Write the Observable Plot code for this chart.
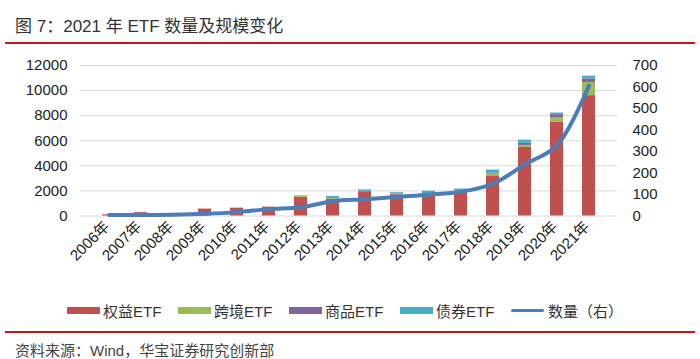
<!DOCTYPE html>
<html>
<head>
<meta charset="utf-8">
<script src="https://cdn.jsdelivr.net/npm/d3@7"></script>
<script src="https://cdn.jsdelivr.net/npm/@observablehq/plot@0.6"></script>
<style>
  html, body { margin: 0; padding: 0; background: #fff; }
  body { font-family: "Liberation Sans", Arial, "Noto Sans CJK SC", sans-serif; }
  #wrap { position: relative; width: 700px; height: 359px; overflow: hidden; background: #fff; }
  #title { position: absolute; left: 15px; top: 12px; font-size: 17px; color: #333; white-space: nowrap; }
  .redline { position: absolute; left: 5px; width: 690px; height: 2px; background: #c8161d; }
  #chart { position: absolute; left: 0; top: 45px; }
  #legend { position: absolute; left: 67px; top: 300px; display: flex; align-items: center; font-size: 15px; color: #333; white-space: nowrap; }
  .item { display: flex; align-items: center; width: 111px; flex: none; }
  .sw { width: 33px; height: 7px; margin-right: 3px; flex: none; }
  .swl { width: 33px; height: 3px; margin-right: 4px; flex: none; border-radius: 2px; }
  #caption { position: absolute; left: 15px; top: 339px; font-size: 15px; color: #444; white-space: nowrap; }
</style>
</head>
<body>
<div id="wrap">
  <div id="title">图 7：2021 年 ETF 数量及规模变化</div>
  <div class="redline" style="top:42px"></div>
  <div id="chart"></div>
  <div id="legend"></div>
  <div class="redline" style="top:331px"></div>
  <div id="caption">资料来源：Wind，华宝证券研究创新部</div>
</div>
<script>
const years = ["2006年","2007年","2008年","2009年","2010年","2011年","2012年","2013年","2014年","2015年","2016年","2017年","2018年","2019年","2020年","2021年"];
const types = ["权益ETF","跨境ETF","商品ETF","债券ETF"];
const colors = ["#c0504d","#9bbb59","#8064a2","#4bacc6"];
const equity      = [90, 270, 180, 550, 625, 705, 1500, 1350, 1940, 1700, 1780, 1950, 3200, 5470, 7470, 9600];
const crossBorder = [0, 0, 0, 0, 0, 0, 110, 50, 20, 80, 0, 30, 150, 160, 340, 1050];
const commodity   = [0, 0, 0, 0, 0, 0, 0, 0, 0, 0, 0, 30, 60, 160, 270, 280];
const bond        = [0, 20, 0, 0, 0, 0, 0, 160, 120, 80, 200, 140, 250, 260, 130, 220];
const counts      = [5, 5, 6, 10, 18, 32, 41, 69, 78, 89, 99, 113, 150, 240, 329, 607];
const leftTicks = [0, 2000, 4000, 6000, 8000, 10000, 12000];
const rightTickLabels = [0, 100, 200, 300, 400, 500, 600, 700];
const lineLabel = "数量（右）";
const lineColor = "#4a7ebb";

const series = [equity, crossBorder, commodity, bond];
const leftMax = 12000, rightMax = 700;
const k = leftMax / rightMax;

const long = [];
types.forEach((t, i) => years.forEach((y, j) => long.push({year: y, type: t, value: series[i][j]})));
const lineData = years.map((y, j) => ({year: y, count: counts[j], scaled: counts[j] * k}));
const rightTicks = rightTickLabels.map(v => v * k);

const chart = Plot.plot({
  width: 700,
  height: 240,
  marginTop: 20,
  marginBottom: 69.5,
  marginLeft: 80,
  marginRight: 83,
  style: {fontFamily: "'Liberation Sans', Arial, 'Noto Sans CJK SC', sans-serif", fontSize: "15px", color: "#222", background: "transparent", overflow: "visible"},
  x: {domain: years, padding: 0.58, label: null},
  y: {domain: [0, leftMax], label: null},
  color: {domain: types, range: colors},
  marks: [
    Plot.gridY(leftTicks, {stroke: "#d9d9d9", strokeOpacity: 1, strokeWidth: 1}),
    Plot.barY(long, {x: "year", y: "value", fill: "type", order: types}),
    Plot.line(lineData, {x: "year", y: "scaled", stroke: lineColor, strokeWidth: 4, curve: "catmull-rom"}),
    Plot.axisY(leftTicks, {anchor: "left", tickSize: 0, tickPadding: 13, label: null, tickFormat: d => String(d)}),
    Plot.axisY(rightTicks, {anchor: "right", tickSize: 0, tickPadding: 15, label: null, tickFormat: d => String(Math.round(d / k))}),
    Plot.axisX({tickRotate: -45, tickSize: 0, tickPadding: 8, dx: -2, fontSize: 15, label: null})
  ]
});
document.getElementById("chart").appendChild(chart);

const legend = document.getElementById("legend");
types.forEach((t, i) => {
  const it = document.createElement("div");
  it.className = "item";
  it.innerHTML = `<span class="sw" style="background:${colors[i]}"></span><span>${t}</span>`;
  legend.appendChild(it);
});
const li = document.createElement("div");
li.className = "item";
li.innerHTML = `<span class="swl" style="background:${lineColor}"></span><span>${lineLabel}</span>`;
legend.appendChild(li);
</script>
</body>
</html>
